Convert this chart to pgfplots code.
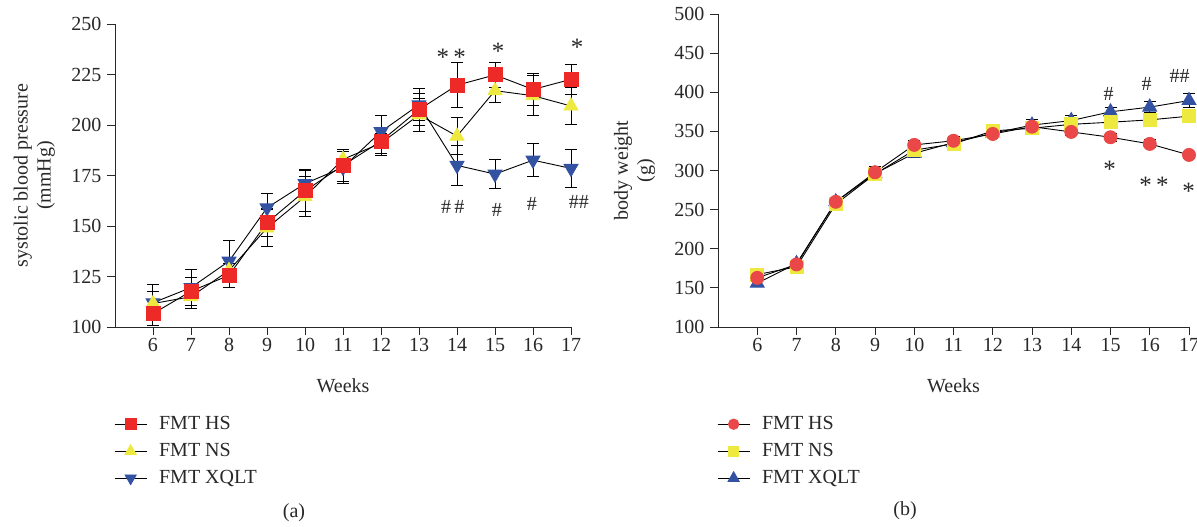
\documentclass[border=0pt]{standalone}
\usepackage{fontspec}
\setmainfont{Liberation Serif}
\usepackage{pgfplots}
\pgfplotsset{compat=1.18}
\definecolor{hsred}{RGB}{237,42,40}
\definecolor{nsyel}{RGB}{238,233,62}
\definecolor{xqblue}{RGB}{52,82,162}
\definecolor{hsred2}{RGB}{234,72,72}
\definecolor{txt}{RGB}{40,40,40}
\tikzset{ann/.style={txt, font=\fontsize{25}{25}\selectfont, yshift=-5pt, inner sep=0pt},
         hash/.style={txt, font=\fontsize{20}{23}\selectfont, inner sep=0pt}}
\pgfplotsset{
  myaxis/.style={
    scale only axis, axis x line*=bottom, axis y line*=left,
    xmin=5, xmax=17, xtick={6,...,17},
    tick align=outside, major tick length=8pt,
    tick style={txt, line width=0.9pt},
    axis line style={txt, line width=0.9pt, -},
    x axis line style={shorten <=-8pt},
    font=\fontsize{20}{23}\selectfont,
    every tick label/.append style={txt},
    yticklabel style={xshift=-2pt},
    /pgf/number format/assume math mode=true,
    clip=false,
    xlabel=Weeks,
    xlabel style={at={(axis description cs:0.5,0)}, anchor=base, yshift=-66pt, txt},
    ylabel style={align=center, at={(axis description cs:-0.177,0.5)}, anchor=center, txt},
    reverse legend,
    legend image code/.code={\draw[mark repeat=2,mark phase=2,#1,every mark/.append style={scale=0.8}] plot coordinates {(0pt,0pt) (16pt,0pt) (32pt,0pt)};
      \path (42pt,0pt);},
    legend style={at={(axis description cs:0,0)}, anchor=north west, xshift=-1pt, yshift=-86pt,
      draw=none, fill=none, inner sep=0pt, row sep=5pt, legend cell align=left,
      nodes={inner sep=2pt, text height=14pt, text depth=4pt, txt}},
    every axis plot/.append style={black, line width=0.9pt},
    error bars/error bar style={black, line width=1pt},
    error bars/error mark options={rotate=90, mark size=6pt, black, line width=1pt},
  }
}
\begin{document}
\begin{tikzpicture}
\path[use as bounding box] (0pt,0pt) rectangle (1197pt,527pt);
% ---------------- (a) ----------------
\begin{axis}[myaxis, at={(115pt,200pt)}, anchor=south west, width=456pt, height=303pt,
  ymin=100, ymax=250, ytick={100,125,...,250},
  ylabel={systolic blood pressure\\(mmHg)}]
\addplot[black, mark=triangle*, mark size=8pt, mark options={rotate=180, fill=xqblue, draw=xqblue},
  error bars/.cd, y dir=both, y explicit] coordinates {
  (6,112) +- (0,9) (7,119.5) +- (0,9) (8,132.6) +- (0,10) (9,159) +- (0,7)
  (10,171) +- (0,7) (11,179) +- (0,8) (12,196.7) +- (0,8) (13,210) +- (0,8)
  (14,180) +- (0,10) (15,175.7) +- (0,7) (16,182.6) +- (0,8) (17,178.5) +- (0,9.5)};
\addlegendentry{FMT XQLT}
\addplot[black, mark=triangle*, mark size=8pt, mark options={fill=nsyel, draw=nsyel},
  error bars/.cd, y dir=both, y explicit] coordinates {
  (6,111.6) +- (0,6) (7,115) +- (0,6) (8,128) +- (0,6) (9,149) +- (0,9)
  (10,164.5) +- (0,10) (11,183) +- (0,5) (12,191) +- (0,5) (13,205) +- (0,8)
  (14,194.5) +- (0,9) (15,217) +- (0,6) (16,214.5) +- (0,10) (17,209.4) +- (0,9)};
\addlegendentry{FMT NS}
\addplot[black, mark=square*, mark size=7pt, mark options={fill=hsred, draw=hsred},
  error bars/.cd, y dir=both, y explicit] coordinates {
  (6,106.6) +- (0,6) (7,117.7) +- (0,7) (8,125.6) +- (0,6) (9,151.6) +- (0,7)
  (10,167.4) +- (0,10) (11,180) +- (0,8) (12,192) +- (0,7) (13,207.6) +- (0,8)
  (14,219.7) +- (0,11) (15,224.8) +- (0,6) (16,217.6) +- (0,8) (17,222.6) +- (0,7.5)};
\addlegendentry{FMT HS}
\node[ann] at (axis cs:13.85,236) {*\,*};
\node[ann] at (axis cs:15.08,239) {*};
\node[ann] at (axis cs:17.16,241) {*};
\node[hash] at (axis cs:13.89,159.4) {\#\,\#};
\node[hash] at (axis cs:15.05,158) {\#};
\node[hash] at (axis cs:15.97,161) {\#};
\node[hash] at (axis cs:17.21,162) {\#\#};
\end{axis}
% ---------------- (b) ----------------
\begin{axis}[myaxis, at={(718pt,200pt)}, anchor=south west, width=471pt, height=313pt,
  ymin=100, ymax=500, ytick={100,150,...,500},
  ylabel={body weight\\(g)}]
\addplot[black, mark=triangle*, mark size=8pt, mark options={fill=xqblue, draw=xqblue},
  error bars/.cd, y dir=both, y explicit] coordinates {
  (6,156) +- (0,4) (7,181) +- (0,4) (8,260) +- (0,5) (9,296) +- (0,9)
  (10,322) +- (0,6) (11,335.6) +- (0,5) (12,347.6) +- (0,5) (13,358) +- (0,7)
  (14,363.8) +- (0,6) (15,375) +- (0,6) (16,381) +- (0,7) (17,389.4) +- (0,8.5)};
\addlegendentry{FMT XQLT}
\addplot[black, mark=square*, mark size=6.5pt, mark options={fill=nsyel, draw=nsyel},
  error bars/.cd, y dir=both, y explicit] coordinates {
  (6,167) +- (0,4) (7,177) +- (0,4) (8,257) +- (0,5) (9,295.5) +- (0,6)
  (10,326) +- (0,5) (11,334) +- (0,5) (12,350.6) +- (0,5) (13,354) +- (0,6)
  (14,359) +- (0,5) (15,361.7) +- (0,5) (16,364.7) +- (0,5) (17,369.4) +- (0,5)};
\addlegendentry{FMT NS}
\addplot[black, mark=*, mark size=6.5pt, mark options={fill=hsred2, draw=hsred2},
  error bars/.cd, y dir=both, y explicit] coordinates {
  (6,162.8) +- (0,4) (7,180) +- (0,4) (8,260) +- (0,5) (9,297.7) +- (0,6)
  (10,332.7) +- (0,5) (11,338) +- (0,5) (12,346.7) +- (0,5) (13,356) +- (0,6)
  (14,349.3) +- (0,5) (15,342.5) +- (0,5) (16,334) +- (0,5) (17,319.9) +- (0,5)};
\addlegendentry{FMT HS}
\node[hash] at (axis cs:14.95,398) {\#};
\node[hash] at (axis cs:15.92,410) {\#};
\node[hash] at (axis cs:16.76,420.8) {\#\#};
\node[ann] at (axis cs:14.98,308) {*};
\node[ann] at (axis cs:16.11,288) {*\,*};
\node[ann] at (axis cs:16.99,280) {*};
\end{axis}
\node[txt, font=\fontsize{20}{23}\selectfont] at (294pt,14pt) {(a)};
\node[txt, font=\fontsize{20}{23}\selectfont] at (905pt,16pt) {(b)};
\end{tikzpicture}
\end{document}
